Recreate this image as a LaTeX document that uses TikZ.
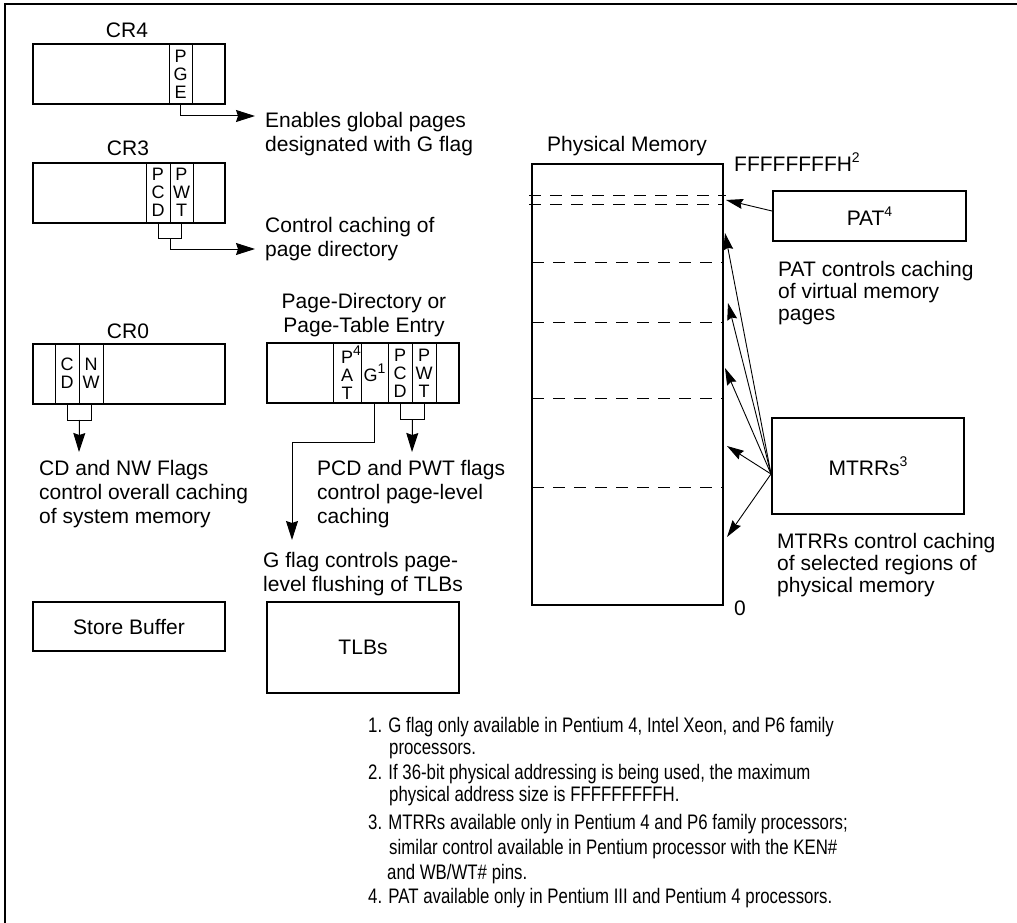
\documentclass[tikz,border=0pt]{standalone}
\usepackage{fontspec}
\setmainfont{Liberation Sans}
\newfontfamily\notefont[FakeStretch=0.8]{Liberation Sans}
\usetikzlibrary{arrows.meta,positioning,calc}
\newcommand{\supnum}[2][14]{\raisebox{0.45em}{\fontsize{#1}{#1}\selectfont #2}}
\tikzset{
  lbl/.style={inner sep=0pt,font=\fontsize{21}{24}\selectfont},
  txt/.style={inner sep=0pt,align=left,anchor=north west,font=\fontsize{21}{24}\selectfont},
  note/.style={inner sep=0pt,align=left,anchor=north west,font=\notefont\fontsize{21}{22}\selectfont},
  regbox/.style={draw,line width=2pt,minimum width=192pt,minimum height=60pt,inner sep=0pt},
  fieldbox/.style={draw,line width=1pt,minimum height=60pt,inner sep=0pt,align=center,
                   font=\fontsize{18}{18}\selectfont},
  plainbox/.style={draw,line width=2pt,inner sep=0pt,font=\fontsize{21}{24}\selectfont},
  conn/.style={line width=1pt},
  arr/.style={-{Stealth[length=19pt,width=12pt,inset=2pt]},line width=1pt},
  arrs/.style={-{Stealth[length=17pt,width=10pt,inset=2pt]},line width=0.9pt},
  dashln/.style={line width=1pt,dash pattern=on 12pt off 9pt},
}
\begin{document}
\begin{tikzpicture}[x=1pt,y=-1pt]
  \useasboundingbox (0,0) rectangle (1017,923);
  \draw[line width=2pt] (1017,4) -- (5,4) -- (5,923);

  % CR4
  \node[lbl, anchor=base] (cr4lbl) at (127,37.7) {CR4};
  \node[regbox] (cr4) at (128.5,74) {};
  \node[fieldbox, minimum width=23pt] (pge) at (180.5,74) {P\\G\\E};
  \node[txt] (pgenote) at (265,112) {Enables global pages\\designated with G flag};
  \coordinate (pgeend) at (255,116);
  \draw[arr] (pge.south) |- (pgeend);

  % CR3
  \node[lbl, anchor=base] (cr3lbl) at (128,156) {CR3};
  \node[regbox] (cr3) at (129,192.5) {};
  \node[fieldbox, minimum width=24pt] (pcdc) at (158,192.5) {P\\C\\D};
  \node[fieldbox, minimum width=23pt] (pwtc) at (181.5,192.5) {P\\W\\T};
  \node[txt] (cr3note) at (265,217) {Control caching of\\page directory};
  \coordinate (cr3mid) at ([yshift=-15pt]pcdc.south east);
  \coordinate (cr3end) at (255,249);
  \draw[conn] (pcdc.south) -- ++(0,15) -| (pwtc.south);
  \draw[arr] (cr3mid) |- (cr3end);

  % CR0
  \node[lbl, anchor=base] (cr0lbl) at (128,338) {CR0};
  \node[regbox] (cr0) at (129,373.5) {};
  \node[fieldbox, minimum width=24pt] (cd) at (67,373.5) {C\\D};
  \node[fieldbox, minimum width=24pt] (nw) at (91,373.5) {N\\W};
  \node[txt] (cr0note) at (39,460) {CD and NW Flags\\control overall caching\\of system memory};
  \coordinate (cr0mid) at ([yshift=-16pt]cd.south east);
  \coordinate (cr0end) at (79,452);
  \draw[conn] (cd.south) -- ++(0,16) -| (nw.south);
  \draw[arr] (cr0mid) -- (cr0end);

  % page-directory / page-table entry
  \node[txt, anchor=north, align=center] (ptelbl) at (364,293) {Page-Directory or\\Page-Table Entry};
  \node[regbox] (pte) at (363,373) {};
  \node[fieldbox, minimum width=28pt] (patf) at (347,373) {P\rlap{\supnum{4}}\\A\\T};
  \node[fieldbox, minimum width=27pt] (gf) at (374.5,373) {G\supnum{1}};
  \node[fieldbox, minimum width=24pt] (pcdf) at (400,373) {P\\C\\D};
  \node[fieldbox, minimum width=24pt] (pwtf) at (424,373) {P\\W\\T};
  \node[txt] (pcdnote) at (317,460) {PCD and PWT flags\\control page-level\\caching};
  \node[txt] (gnote) at (263,552) {G flag controls page-\\level flushing of TLBs};
  \coordinate (ptemid) at ([yshift=-16pt]pcdf.south east);
  \coordinate (pteend) at (412,452);
  \coordinate (gturn) at (292,442);
  \coordinate (gend) at (292,540);
  \draw[conn] (pcdf.south) -- ++(0,16) -| (pwtf.south);
  \draw[arr] (ptemid) -- (pteend);
  \draw[arr] (gf.south) |- (gturn) -- (gend);

  % buffers
  \node[plainbox, minimum width=192pt, minimum height=49pt] (sbuf) at (129,626.5) {Store Buffer};
  \node[plainbox, minimum width=192pt, minimum height=91pt] (tlb) at (363,647.5) {TLBs};

  % physical memory
  \node[lbl, anchor=base] (memlbl) at (627,152) {Physical Memory};
  \node[plainbox, minimum width=191pt, minimum height=441pt] (mem) at (627.5,384.5) {};
  \node[lbl, anchor=base west] (memtop) at (734,171.5) {FFFFFFFFH\supnum{2}};
  \node[lbl, anchor=base west] (membot) at (734,615) {0};
  \draw[dashln] (529,195) -- (726,195);
  \draw[dashln] (529,204) -- (723,204);
  \foreach \y in {262,322,398,487}
    \draw[dashln] (532,\y) -- (723,\y);

  % PAT and MTRRs
  \node[plainbox, minimum width=193pt, minimum height=50pt] (pat) at (869.5,216) {PAT\supnum{4}};
  \node[txt, font=\fontsize{21}{22}\selectfont] (patnote) at (778,261) {PAT controls caching\\of virtual memory\\pages};
  \coordinate (pattip) at (726,200);
  \draw[arrs] ([yshift=5pt]pat.west) -- (pattip);

  \node[plainbox, minimum width=192pt, minimum height=96pt] (mtrr) at (868,466) {MTRRs\supnum{3}};
  \node[txt, font=\fontsize{21}{22}\selectfont] (mtrrnote) at (777,533) {MTRRs control caching\\of selected regions of\\physical memory};
  \coordinate (mtrrsrc) at ([yshift=-8pt]mtrr.west);
  \foreach \x/\y [count=\i] in {725/233,728/303,725/368,727/446,727/537}
    \coordinate (mt\i) at (\x,\y);
  \foreach \i in {1,...,5}
    \draw[arrs] (mtrrsrc) -- (mt\i);

  % footnotes
  \node[note] (fn1) at (368,717) {1. G flag only available in Pentium 4, Intel Xeon, and P6 family\\\hspace*{21pt}processors.};
  \node[note] (fn2) at (368,764) {2. If 36-bit physical addressing is being used, the maximum\\\hspace*{21pt}physical address size is FFFFFFFFFH.};
  \node[note, font=\notefont\fontsize{21}{25}\selectfont] (fn3) at (368,814) {3. MTRRs available only in Pentium 4 and P6 family processors;\\\hspace*{21pt}similar control available in Pentium processor with the KEN\#\\\hspace*{19pt}and WB/WT\# pins.};
  \node[note] (fn4) at (368,888) {4. PAT available only in Pentium III and Pentium 4 processors.};
\end{tikzpicture}
\end{document}
